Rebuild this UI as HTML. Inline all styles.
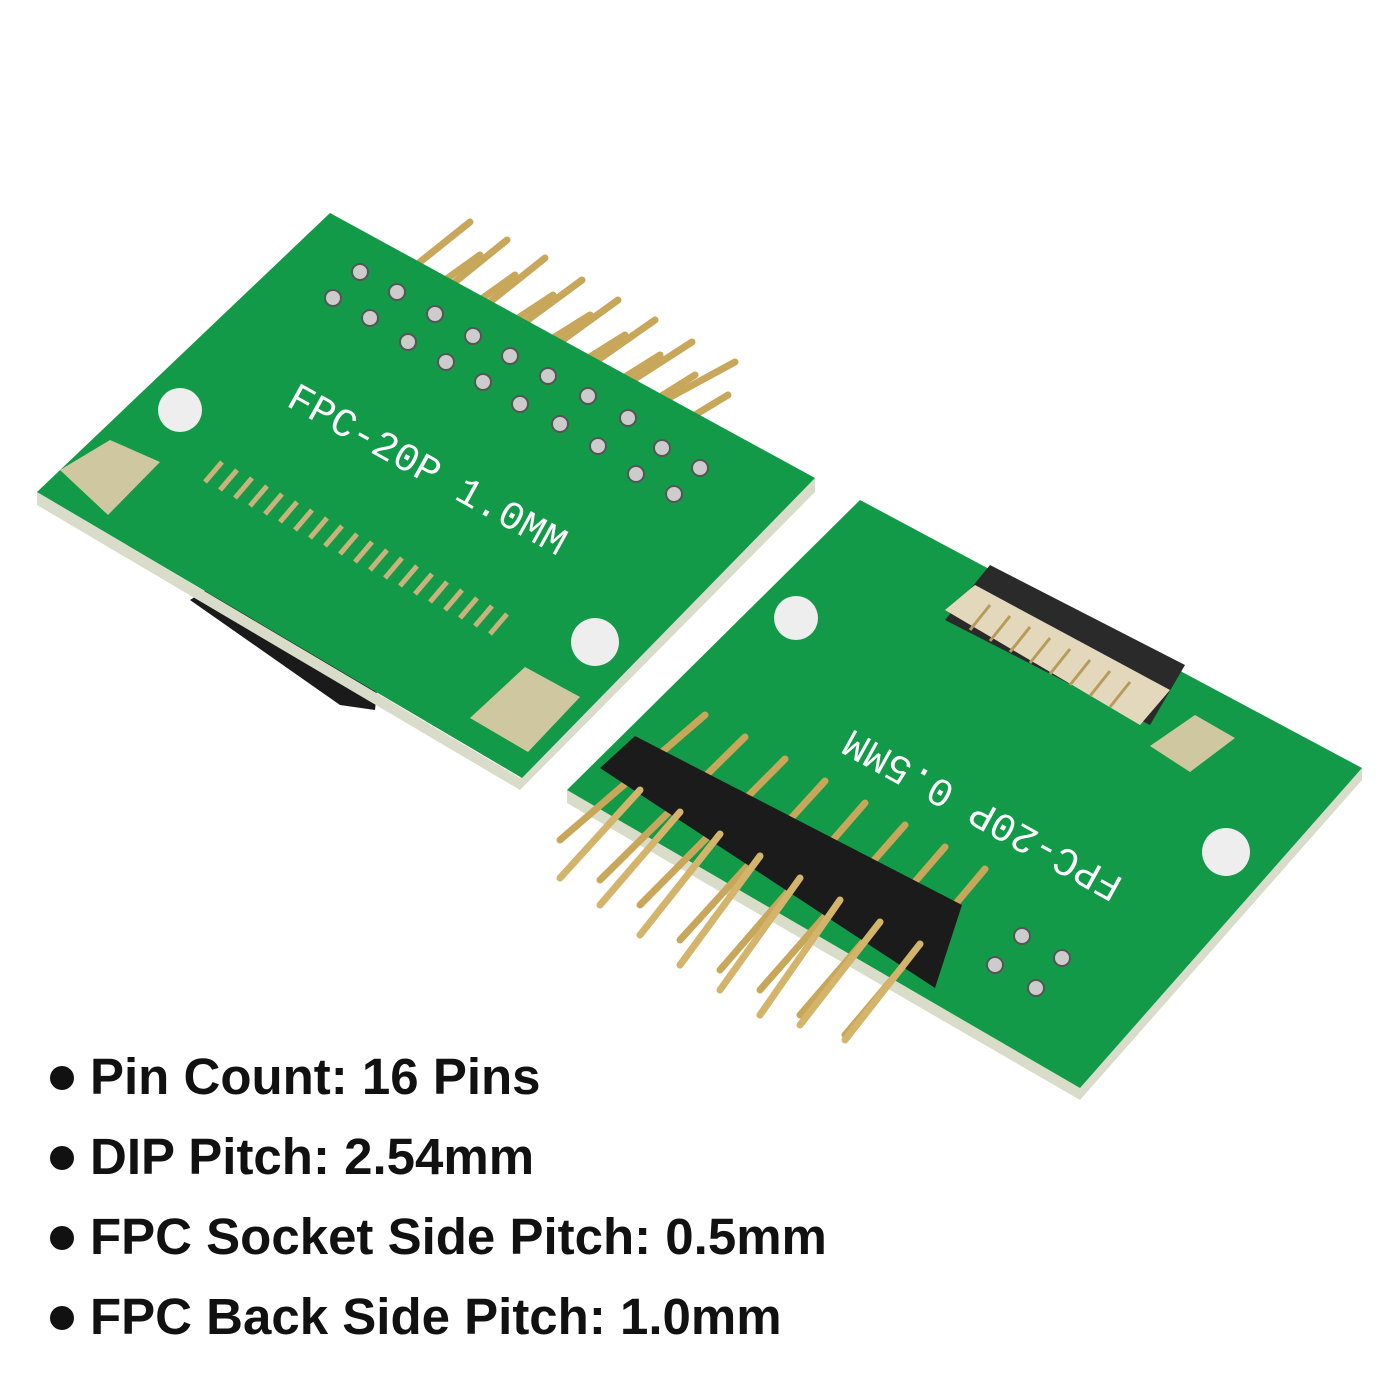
<!DOCTYPE html>
<html><head><meta charset="utf-8"><style>
html,body{margin:0;padding:0;background:#fff;}
body{width:1400px;height:1400px;position:relative;overflow:hidden;}
.t{position:absolute;left:90px;font-family:"Liberation Sans",sans-serif;font-weight:bold;font-size:51px;color:#111;white-space:nowrap;}
.d{position:absolute;left:50px;width:24px;height:24px;border-radius:50%;background:#111;}
</style></head><body>
<svg width="1400" height="1400" style="position:absolute;left:0;top:0">
<g stroke="#c9a75a" stroke-width="7" stroke-linecap="round">
<line x1="420" y1="262" x2="470" y2="222"/><line x1="455" y1="282" x2="507" y2="240"/>
<line x1="490" y1="302" x2="545" y2="258"/><line x1="525" y1="322" x2="582" y2="280"/>
<line x1="560" y1="342" x2="618" y2="300"/><line x1="595" y1="362" x2="655" y2="320"/>
<line x1="630" y1="382" x2="692" y2="342"/><line x1="665" y1="400" x2="735" y2="362"/>
<line x1="445" y1="280" x2="480" y2="255"/><line x1="480" y1="300" x2="515" y2="275"/>
<line x1="515" y1="320" x2="553" y2="295"/><line x1="550" y1="340" x2="590" y2="315"/>
<line x1="585" y1="360" x2="625" y2="335"/><line x1="620" y1="380" x2="660" y2="355"/>
<line x1="655" y1="400" x2="695" y2="375"/><line x1="690" y1="418" x2="728" y2="395"/>
</g>
<polygon points="190,600 230,575 380,660 375,710 340,705" fill="#1a1a1a"/>
<polygon points="37,492 37,505 520,790 815,492 815,478 520,778" fill="#d8dcc8"/>
<polygon points="37,492 330,213 815,478 522,778" fill="#129a48"/>
<polygon points="60,470 110,440 160,462 108,515" fill="#cfc7a0"/>
<polygon points="470,718 525,667 580,697 528,752" fill="#cfc7a0"/>
<circle cx="180" cy="410" r="22" fill="#eee"/><circle cx="595" cy="642" r="24" fill="#eee"/>
<g stroke="#cbb27a" stroke-width="5">
<line x1="205" y1="482" x2="222" y2="462"/><line x1="220" y1="490" x2="237" y2="470"/>
<line x1="235" y1="498" x2="252" y2="478"/><line x1="250" y1="506" x2="267" y2="486"/>
<line x1="265" y1="514" x2="282" y2="494"/><line x1="280" y1="522" x2="297" y2="502"/>
<line x1="295" y1="530" x2="312" y2="510"/><line x1="310" y1="538" x2="327" y2="518"/>
<line x1="325" y1="546" x2="342" y2="526"/><line x1="340" y1="554" x2="357" y2="534"/>
<line x1="355" y1="562" x2="372" y2="542"/><line x1="370" y1="570" x2="387" y2="550"/>
<line x1="385" y1="578" x2="402" y2="558"/><line x1="400" y1="586" x2="417" y2="566"/>
<line x1="415" y1="594" x2="432" y2="574"/><line x1="430" y1="602" x2="447" y2="582"/>
<line x1="445" y1="610" x2="462" y2="590"/><line x1="460" y1="618" x2="477" y2="598"/>
<line x1="475" y1="626" x2="492" y2="606"/><line x1="490" y1="634" x2="507" y2="614"/>
</g>
<g fill="#ccc" stroke="#555" stroke-width="2">
<circle cx="360" cy="272" r="8"/><circle cx="333" cy="298" r="8"/><circle cx="397" cy="292" r="8"/><circle cx="370" cy="318" r="8"/>
<circle cx="435" cy="314" r="8"/><circle cx="408" cy="342" r="8"/><circle cx="473" cy="336" r="8"/><circle cx="446" cy="362" r="8"/>
<circle cx="510" cy="356" r="8"/><circle cx="483" cy="382" r="8"/><circle cx="548" cy="376" r="8"/><circle cx="520" cy="404" r="8"/>
<circle cx="588" cy="396" r="8"/><circle cx="560" cy="424" r="8"/><circle cx="628" cy="418" r="8"/><circle cx="598" cy="446" r="8"/>
<circle cx="662" cy="448" r="8"/><circle cx="636" cy="474" r="8"/><circle cx="700" cy="468" r="8"/><circle cx="674" cy="494" r="8"/>
</g>
<text x="0" y="0" transform="translate(285,405) rotate(29)" font-family="Liberation Mono,monospace" font-size="40" fill="#fff">FPC-20P 1.0MM</text>
<polygon points="567,790 567,803 1080,1100 1362,780 1362,768 1080,1088" fill="#d8dcc8"/>
<polygon points="567,790 860,500 1362,768 1080,1088" fill="#129a48"/>
<circle cx="796" cy="618" r="22" fill="#eee"/><circle cx="1226" cy="852" r="24" fill="#eee"/>
<polygon points="1150,746 1195,715 1235,738 1190,772" fill="#cfc7a0"/>
<polygon points="990,565 1185,665 1150,725 945,620" fill="#2a2a2a"/>
<polygon points="945,610 975,585 1170,690 1140,725" fill="#e4d8bc"/>
<g stroke="#b89a5a" stroke-width="3">
<line x1="970" y1="630" x2="990" y2="605"/><line x1="990" y1="641" x2="1010" y2="616"/><line x1="1010" y1="652" x2="1030" y2="627"/>
<line x1="1030" y1="663" x2="1050" y2="638"/><line x1="1050" y1="674" x2="1070" y2="649"/><line x1="1070" y1="685" x2="1090" y2="660"/>
<line x1="1090" y1="696" x2="1110" y2="671"/><line x1="1110" y1="707" x2="1130" y2="682"/>
</g>
<text x="0" y="0" transform="translate(1125,880) rotate(-151)" font-family="Liberation Mono,monospace" font-size="40" fill="#fff">FPC-20P 0.5MM</text>
<g fill="#ccc" stroke="#555" stroke-width="2">
<circle cx="1022" cy="936" r="8"/><circle cx="1062" cy="958" r="8"/><circle cx="995" cy="965" r="8"/><circle cx="1036" cy="988" r="8"/>
</g>
<g stroke="#c9a75a" stroke-width="7" stroke-linecap="round">
<line x1="705" y1="715" x2="560" y2="840"/><line x1="745" y1="737" x2="600" y2="880"/>
<line x1="785" y1="759" x2="640" y2="905"/><line x1="825" y1="781" x2="680" y2="940"/>
<line x1="865" y1="803" x2="720" y2="970"/><line x1="905" y1="825" x2="760" y2="990"/>
<line x1="945" y1="847" x2="800" y2="1015"/><line x1="985" y1="869" x2="845" y2="1035"/>
</g>
<polygon points="600,768 635,736 962,905 935,988" fill="#1b1b1b"/>
<g stroke="#d4b46a" stroke-width="7" stroke-linecap="round">
<line x1="640" y1="790" x2="560" y2="878"/><line x1="680" y1="812" x2="600" y2="905"/>
<line x1="720" y1="834" x2="640" y2="935"/><line x1="760" y1="856" x2="680" y2="965"/>
<line x1="800" y1="878" x2="720" y2="990"/><line x1="840" y1="900" x2="760" y2="1015"/>
<line x1="880" y1="922" x2="800" y2="1025"/><line x1="920" y1="944" x2="845" y2="1040"/>
</g>
</svg>
<div class="d" style="top:1066px"></div><div class="t" style="top:1047px">Pin Count: 16 Pins</div>
<div class="d" style="top:1146px"></div><div class="t" style="top:1127px">DIP Pitch: 2.54mm</div>
<div class="d" style="top:1226px"></div><div class="t" style="top:1207px">FPC Socket Side Pitch: 0.5mm</div>
<div class="d" style="top:1306px"></div><div class="t" style="top:1287px">FPC Back Side Pitch: 1.0mm</div>
</body></html>
